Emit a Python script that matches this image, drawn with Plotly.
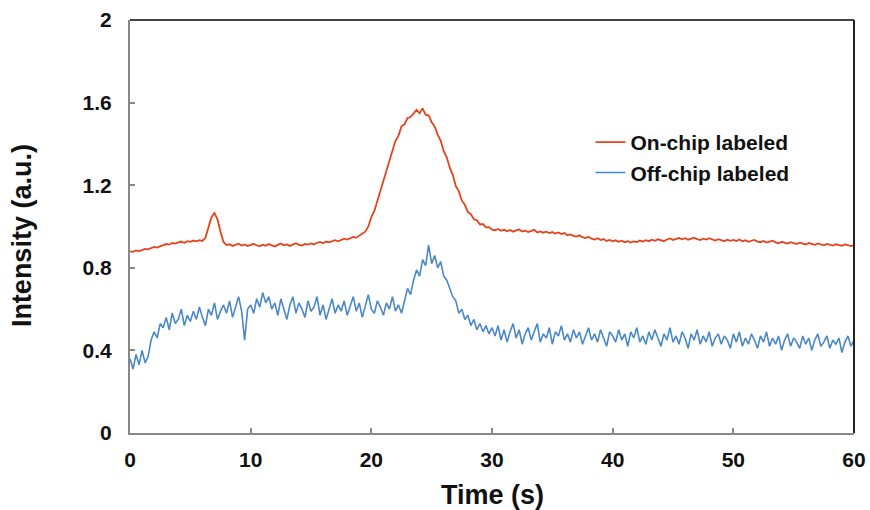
import plotly.graph_objects as go

T_START = 0.0
T_END = 60.0

ON_CHIP = [
    0.880, 0.877, 0.884, 0.881, 0.886, 0.891, 0.889, 0.896, 0.901, 0.898, 0.906, 0.910,
    0.915, 0.912, 0.920, 0.917, 0.923, 0.927, 0.921, 0.929, 0.926, 0.932, 0.928, 0.934,
    0.930, 0.945, 0.995, 1.045, 1.065, 1.035, 0.975, 0.925, 0.910,
    0.914, 0.906, 0.912, 0.917, 0.908, 0.913, 0.905, 0.911, 0.916, 0.909, 0.904, 0.912,
    0.907, 0.915, 0.910, 0.903, 0.911, 0.918, 0.909, 0.913, 0.906, 0.914, 0.919, 0.911,
    0.908, 0.916, 0.912,
    0.918, 0.913, 0.921, 0.925, 0.919, 0.927, 0.923, 0.930, 0.934, 0.928, 0.936, 0.941,
    0.937, 0.944, 0.949, 0.946, 0.955, 0.962,
    0.975, 1.000, 1.045, 1.075, 1.125, 1.165, 1.225, 1.265, 1.325, 1.365, 1.415, 1.440,
    1.485, 1.495, 1.525, 1.530, 1.550, 1.565, 1.548, 1.572, 1.540, 1.538, 1.505, 1.485,
    1.445, 1.415, 1.365, 1.335, 1.285, 1.250, 1.195, 1.170, 1.125, 1.105, 1.070, 1.060,
    1.035, 1.030, 1.010, 1.012, 0.996, 0.997, 0.985,
    0.982, 0.988, 0.979, 0.984, 0.977, 0.983, 0.975, 0.981, 0.986, 0.976, 0.980, 0.973,
    0.978, 0.984, 0.971, 0.976, 0.970, 0.975, 0.968, 0.973, 0.966, 0.971, 0.963, 0.968,
    0.958, 0.962, 0.955, 0.951, 0.957, 0.948, 0.944, 0.950, 0.941, 0.937, 0.943, 0.934,
    0.939, 0.930, 0.935, 0.928,
    0.933, 0.926, 0.931, 0.924, 0.929, 0.922, 0.928, 0.925, 0.932, 0.927, 0.934, 0.929,
    0.936, 0.931, 0.938, 0.934, 0.929, 0.937, 0.942, 0.935, 0.940, 0.945, 0.938, 0.943,
    0.936, 0.941, 0.946, 0.939, 0.934, 0.941, 0.937, 0.943, 0.936, 0.932, 0.939, 0.934,
    0.929, 0.936, 0.931, 0.935,
    0.930, 0.937, 0.928, 0.933, 0.926, 0.931, 0.935, 0.927, 0.924, 0.930, 0.922, 0.927,
    0.931, 0.923, 0.919, 0.926, 0.921, 0.917, 0.924, 0.919, 0.915, 0.922, 0.918, 0.913,
    0.920, 0.916, 0.911, 0.918, 0.914, 0.909, 0.916, 0.912, 0.908, 0.914, 0.910, 0.906,
    0.913, 0.909, 0.905, 0.910,
]

OFF_CHIP = [
    0.36, 0.31, 0.38, 0.33, 0.40, 0.34,
    0.37, 0.45, 0.49, 0.46, 0.53,
    0.51, 0.56, 0.50, 0.58, 0.53, 0.55, 0.60, 0.52, 0.57,
    0.54, 0.59, 0.55, 0.61, 0.56, 0.52, 0.60, 0.57, 0.63, 0.55, 0.59, 0.62,
    0.58, 0.64, 0.56, 0.61, 0.66, 0.59, 0.45, 0.60,
    0.62, 0.58, 0.65, 0.61, 0.68, 0.63, 0.66, 0.60,
    0.63, 0.57, 0.65, 0.60, 0.55, 0.62, 0.66, 0.58, 0.63, 0.60,
    0.56, 0.64, 0.59, 0.61, 0.66, 0.57, 0.62, 0.55, 0.60, 0.65,
    0.58, 0.62, 0.59, 0.64, 0.57, 0.61, 0.66, 0.59, 0.63, 0.56,
    0.61, 0.67, 0.60, 0.58, 0.64, 0.61, 0.57, 0.63, 0.60, 0.66,
    0.59, 0.62,
    0.58, 0.64, 0.70, 0.67, 0.74, 0.79, 0.76, 0.84, 0.81,
    0.91, 0.82, 0.86, 0.80, 0.83, 0.76, 0.74, 0.70, 0.66, 0.64, 0.58, 0.60,
    0.55, 0.57, 0.52, 0.55, 0.50, 0.53, 0.49, 0.52, 0.48, 0.51,
    0.47, 0.52, 0.45, 0.50, 0.44, 0.49, 0.53, 0.46, 0.50, 0.43, 0.48, 0.51,
    0.45, 0.49, 0.53, 0.44, 0.48, 0.46, 0.51, 0.43, 0.49, 0.47, 0.52, 0.45,
    0.48, 0.44, 0.50, 0.46, 0.49, 0.43, 0.47, 0.51, 0.45, 0.48, 0.44, 0.50,
    0.46, 0.42, 0.49, 0.47,
    0.44, 0.50, 0.45, 0.48, 0.42, 0.49, 0.46, 0.51, 0.44, 0.47, 0.43, 0.49,
    0.45, 0.50, 0.46, 0.42, 0.48, 0.45, 0.51, 0.44, 0.47, 0.43, 0.49, 0.46,
    0.41, 0.48, 0.45, 0.50, 0.43, 0.47, 0.44, 0.49, 0.42, 0.46, 0.48, 0.43,
    0.47, 0.45, 0.41, 0.48,
    0.44, 0.49, 0.42, 0.46, 0.43, 0.48, 0.45, 0.41, 0.47, 0.44, 0.49, 0.42,
    0.46, 0.43, 0.47, 0.40, 0.45, 0.48, 0.42, 0.46, 0.44, 0.41, 0.47, 0.43,
    0.46, 0.40, 0.45, 0.48, 0.42, 0.44, 0.47, 0.41, 0.45, 0.43, 0.46, 0.39,
    0.44, 0.47, 0.42, 0.45,
]

X_TICKS = [0, 10, 20, 30, 40, 50, 60]
Y_TICKS = [0, 0.4, 0.8, 1.2, 1.6, 2]
Y_TICK_TEXT = ["0", "0.4", "0.8", "1.2", "1.6", "2"]
X_TITLE = "Time (s)"
Y_TITLE = "Intensity (a.u.)"

FONT = "Liberation Sans, Arial, sans-serif"
TICK_FONT = dict(family=FONT, size=21, color="#111", weight="bold")
TITLE_FONT = dict(family=FONT, size=27, color="#111", weight="bold")

fig = go.Figure()
fig.add_trace(go.Scatter(
    x0=T_START, dx=(T_END - T_START) / (len(ON_CHIP) - 1), y=ON_CHIP,
    mode="lines", name="On-chip labeled",
    line=dict(color="#E4441C", width=1.8),
))
fig.add_trace(go.Scatter(
    x0=T_START, dx=(T_END - T_START) / (len(OFF_CHIP) - 1), y=OFF_CHIP,
    mode="lines", name="Off-chip labeled",
    line=dict(color="#4A88C8", width=1.6),
))

fig.update_layout(
    width=870, height=510,
    margin=dict(l=130, r=16, t=20, b=77, autoexpand=False),
    paper_bgcolor="white", plot_bgcolor="white",
    font=dict(family=FONT, color="black"),
    showlegend=True,
    legend=dict(
        x=0.636, y=0.753, xanchor="left", yanchor="top",
        font=dict(family=FONT, size=21, color="#111", weight="bold"),
        bgcolor="rgba(0,0,0,0)",
    ),
    xaxis=dict(
        range=[0, 60], tickvals=X_TICKS, ticks="inside", ticklen=5,
        tickcolor="#888", tickwidth=1.5,
        showline=True, linecolor="#888", linewidth=2,
        showgrid=False, zeroline=False, automargin=False,
        tickfont=TICK_FONT, ticklabelstandoff=7,
    ),
    yaxis=dict(
        range=[0, 2], tickvals=Y_TICKS, ticktext=Y_TICK_TEXT,
        ticks="inside", ticklen=5,
        tickcolor="#888", tickwidth=1.5,
        showline=True, linecolor="#888", linewidth=2,
        showgrid=False, zeroline=False, automargin=False,
        tickfont=TICK_FONT, ticklabelstandoff=12,
    ),
)

# axis titles
fig.add_annotation(text=X_TITLE, xref="paper", yref="paper", x=0.5, y=-0.150,
                   xanchor="center", yanchor="middle", showarrow=False, font=TITLE_FONT)
fig.add_annotation(text=Y_TITLE, xref="paper", yref="paper", x=-0.149, y=0.477,
                   xanchor="center", yanchor="middle", showarrow=False, textangle=-90,
                   font=TITLE_FONT)

# top and right frame lines
fig.add_shape(type="line", xref="paper", yref="paper", x0=0, x1=1, y0=1, y1=1,
              line=dict(color="#444", width=2))
fig.add_shape(type="line", xref="paper", yref="paper", x0=1, x1=1, y0=0, y1=1,
              line=dict(color="#222", width=2))

fig.write_html(
    "out.html",
    config={"displayModeBar": False},
    post_script="document.body.style.margin='0';document.body.style.overflow='hidden';",
)
